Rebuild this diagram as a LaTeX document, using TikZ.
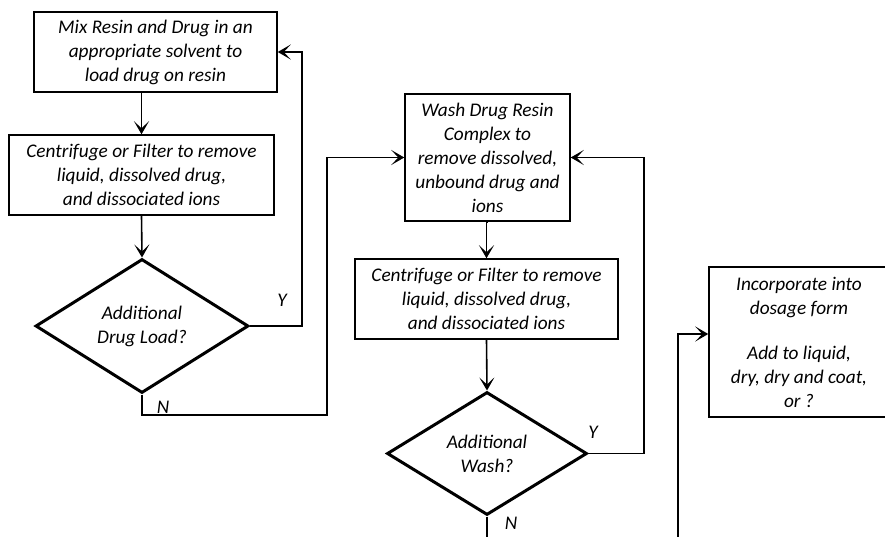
\documentclass[tikz,border=0pt]{standalone}
\usepackage{fontspec}
\setmainfont{Carlito}
\usetikzlibrary{shapes.geometric,arrows.meta}

\tikzset{
	procbox/.style={draw, line width=1.5pt, rectangle, align=center, inner sep=0pt,
		font=\itshape\fontsize{19.3}{24}\selectfont},
	decision/.style={draw, line width=3pt, diamond, aspect=1.6, align=center, inner sep=0pt,
		font=\itshape\fontsize{19.3}{24}\selectfont},
	flow/.style={line width=1.6pt, -{Stealth[length=13pt,width=15pt,inset=7pt]}},
	plainflow/.style={line width=1.6pt},
	answer/.style={font=\itshape\fontsize{19.3}{22}\selectfont}
}

\begin{document}
\begin{tikzpicture}[x=1pt,y=-1pt]
		\useasboundingbox ( 0, 0 ) rectangle ( 885, 536 );
		\clip ( 0, 0 ) rectangle ( 885, 536 );

		% загрузка
		\node [procbox, minimum width=243pt, minimum height=80pt] (mix) at ( 155.5, 52 )
			{Mix Resin and Drug in an\\appropriate solvent to\\load drug on resin};
		\node [procbox, minimum width=265pt, minimum height=80pt] (cfa) at ( 141.5, 175 )
			{Centrifuge or Filter to remove\\liquid, dissolved drug,\\and dissociated ions};
		\node [decision, minimum width=213pt, minimum height=134pt] (load) at ( 142, 326 )
			{Additional\\Drug Load?};

		% промывка
		\node [procbox, minimum width=165pt, minimum height=127pt] (wash) at ( 487.5, 157.5 )
			{Wash Drug Resin\\Complex to\\remove dissolved,\\unbound drug and\\ions};
		\node [procbox, minimum width=263pt, minimum height=80pt] (cfb) at ( 486.5, 299 )
			{Centrifuge or Filter to remove\\liquid, dissolved drug,\\and dissociated ions};
		\node [decision, minimum width=200pt, minimum height=123pt] (more) at ( 487, 453.5 )
			{Additional\\Wash?};

		% лекарственная форма
		\node [procbox, minimum width=180pt, minimum height=150pt] (form) at ( 799, 342 )
			{Incorporate into\\dosage form\\[21pt]Add to liquid,\\dry, dry and coat,\\or ?};

		% точки поворота
		\coordinate (yturna) at ( 302, 52 );
		\coordinate (nturna) at ( 327, 415 );
		\coordinate (yturnb) at ( 644, 157.5 );
		\coordinate (nend) at ( 487, 545 );
		\coordinate (fbeg) at ( 678, 545 );
		\coordinate (fturn) at ( 678, 334 );

		% связи
		\draw [flow] (cfa.north |- mix.south) -- (cfa.north);
		\draw [flow] (cfa.south) -- (load.north);
		\draw [flow] (load.east) -| (yturna) -- (mix.east);
		\draw [flow] (load.south) |- (nturna) |- (wash.west);
		\draw [flow] (wash.south) -- (cfb.north |- wash.south) -- (cfb.north);
		\draw [flow] (cfb.south) -- (more.north);
		\draw [flow] (more.east) -| (yturnb) -- (wash.east);
		\draw [plainflow] (more.south) -- (nend);
		\draw [flow] (fbeg) -- (fturn) -- (form.west |- fturn);

		% ответы
		\node [answer] (ya) at ( 282, 300 ) {Y};
		\node [answer] (na) at ( 163, 407 ) {N};
		\node [answer] (yb) at ( 593, 432 ) {Y};
		\node [answer] (nb) at ( 511, 523 ) {N};
	\end{tikzpicture}
\end{document}
